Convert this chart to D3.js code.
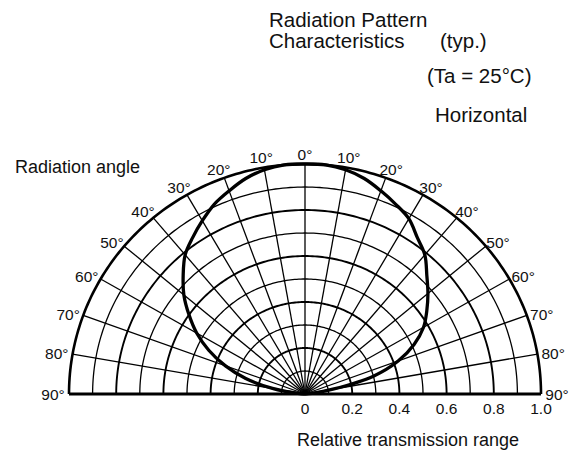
<!DOCTYPE html>
<html>
<head>
<meta charset="utf-8">
<script src="https://cdn.jsdelivr.net/npm/d3@7"></script>
<style>
  body { margin: 0; background: #fff; }
  svg text { font-family: "Liberation Sans", Arial, sans-serif; fill: #111; }
</style>
</head>
<body>
<script>
var svgWidth = 572;
var svgHeight = 453;

// angle labels on the rim (degrees off the axis, both sides)
var angleLabels = [0, 10, 20, 30, 40, 50, 60, 70, 80, 90];
// concentric rings, relative range
var ringValues = [0.1, 0.2, 0.3, 0.4, 0.5, 0.6, 0.7, 0.8, 0.9, 1.0];
// axis ticks along the base line
var rangeTicks = [0, 0.2, 0.4, 0.6, 0.8, 1.0];
var rangeTickLabels = ["0", "0.2", "0.4", "0.6", "0.8", "1.0"];

// radiation pattern (negative = left side)
var patternAngles = [-90, -85, -80, -75, -70, -65, -60, -55, -50, -45, -40, -35, -30, -25, -20, -15, -10, -5,
  0, 5, 10, 15, 20, 25, 30, 35, 40, 45, 50, 55, 60, 65, 70, 75, 80, 85, 90];
var patternValues = [0, 0.03, 0.14, 0.26, 0.36, 0.45, 0.53, 0.60, 0.67, 0.73, 0.79, 0.83, 0.87, 0.91, 0.94, 0.97, 0.99, 1.0,
  1.0, 1.0, 0.99, 0.97, 0.94, 0.91, 0.88, 0.83, 0.79, 0.73, 0.68, 0.63, 0.58, 0.51, 0.42, 0.30, 0.12, 0.03, 0];

var svg = d3.select("body")
  .append("svg")
  .attr("width", svgWidth)
  .attr("height", svgHeight);

// x runs -1..1 across the half circle, y 0..1 upward from the base line
var xScale = d3.scaleLinear().domain([-1, 1]).range([69, 541]);
var yScale = d3.scaleLinear().domain([0, 1]).range([394, 164]);

function px(r, deg) { return xScale(r * Math.sin(deg * Math.PI / 180)); }
function py(r, deg) { return yScale(r * Math.cos(deg * Math.PI / 180)); }

var arcLine = d3.line()
  .x(function(d) { return px(d.r, d.a); })
  .y(function(d) { return py(d.r, d.a); });

var grid = svg.append("g").attr("fill", "none").attr("stroke", "#000");

// rings
ringValues.forEach(function(r, i) {
  var pts = d3.range(-90, 90.5, 1).map(function(a) { return { r: r, a: a }; });
  grid.append("path")
    .attr("d", arcLine(pts))
    .attr("stroke-width", r === 1 ? 2.6 : (i % 2 === 1 ? 1.9 : 1.3));
});

// spokes every 10 degrees
d3.range(-80, 81, 10).forEach(function(a) {
  grid.append("line")
    .attr("x1", px(0, a)).attr("y1", py(0, a))
    .attr("x2", px(1, a)).attr("y2", py(1, a))
    .attr("stroke-width", 1.3);
});

// base line
grid.append("line")
  .attr("x1", xScale(-1)).attr("y1", yScale(0))
  .attr("x2", xScale(1)).attr("y2", yScale(0))
  .attr("stroke-width", 3);

// pattern curve
var patternData = patternAngles.map(function(a, i) { return { a: a, r: patternValues[i] }; });
svg.append("path")
  .datum(patternData)
  .attr("d", d3.line()
    .x(function(d) { return px(d.r, d.a); })
    .y(function(d) { return py(d.r, d.a); })
    .curve(d3.curveCatmullRom.alpha(0.5)))
  .attr("fill", "none")
  .attr("stroke", "#000")
  .attr("stroke-width", 3.3);

// angle labels around the rim
var labels = svg.append("g").attr("font-size", "15.5px");
angleLabels.forEach(function(a) {
  var sides = a === 0 ? [1] : [1, -1];
  sides.forEach(function(s) {
    var rad = a * Math.PI / 180;
    var ex = px(1, s * a), ey = py(1, s * a);
    var dx = 16 * Math.sin(rad) * s;
    var dy = -10 * Math.cos(rad) * Math.cos(rad);
    labels.append("text")
      .attr("x", ex + dx)
      .attr("y", ey + dy)
      .attr("text-anchor", "middle")
      .attr("dominant-baseline", "central")
      .text(a + "°");
  });
});

// base line tick labels
rangeTicks.forEach(function(t, i) {
  labels.append("text")
    .attr("x", xScale(t))
    .attr("y", 414)
    .attr("text-anchor", "middle")
    .text(rangeTickLabels[i]);
});

// titles
svg.append("text").attr("x", 269).attr("y", 27).attr("font-size", "20.5px").text("Radiation Pattern");
svg.append("text").attr("x", 269).attr("y", 48).attr("font-size", "20.5px").text("Characteristics");
svg.append("text").attr("x", 440).attr("y", 48).attr("font-size", "20.5px").text("(typ.)");
svg.append("text").attr("x", 427).attr("y", 83).attr("font-size", "20.5px").text("(Ta = 25°C)");
svg.append("text").attr("x", 435).attr("y", 122).attr("font-size", "20.5px").text("Horizontal");
svg.append("text").attr("x", 15).attr("y", 173).attr("font-size", "18px").text("Radiation angle");
svg.append("text").attr("x", 297).attr("y", 446).attr("font-size", "18px").text("Relative transmission range");
</script>
</body>
</html>
